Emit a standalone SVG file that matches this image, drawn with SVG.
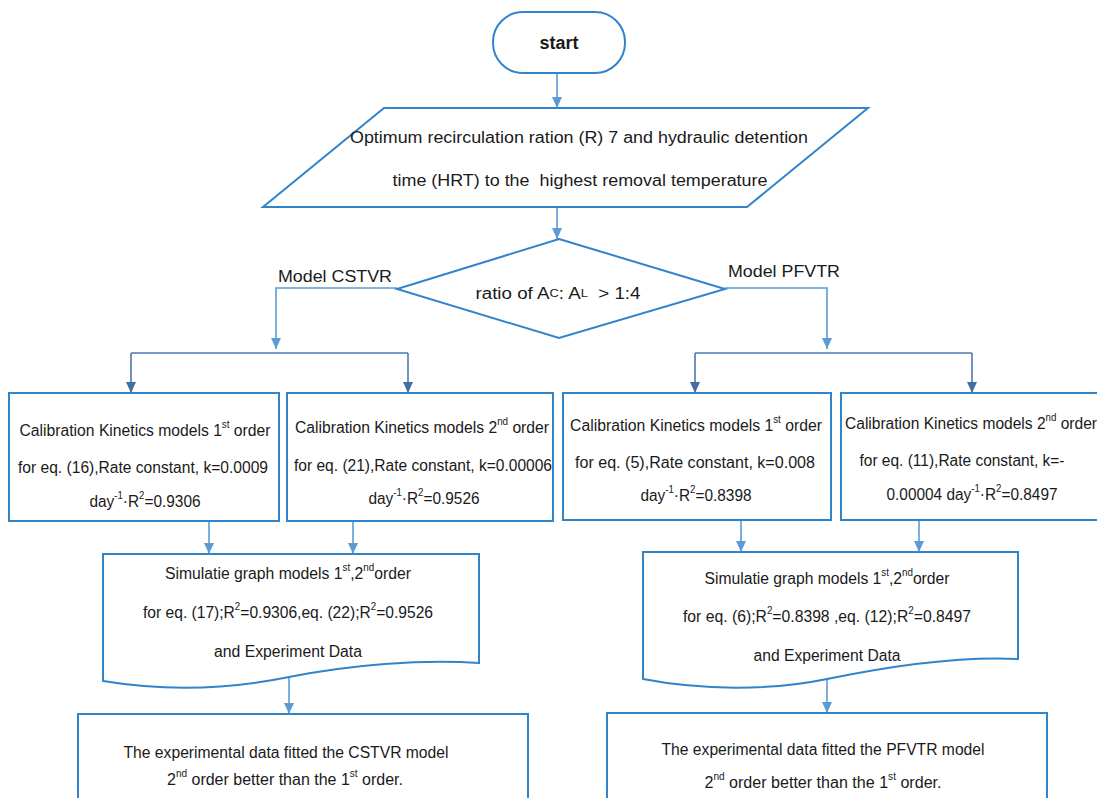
<svg xmlns="http://www.w3.org/2000/svg" width="1097" height="798" viewBox="0 0 1097 798">
<style>
.shape{fill:#fff;stroke:#2F84CC;stroke-width:2}
.conn{fill:none;stroke:#5B9BD5;stroke-width:1.6}
.split{fill:none;stroke:#4A7AAE;stroke-width:1.6}
text{font-family:"Liberation Sans",Arial,sans-serif;font-size:16px;fill:#1a1a1a;dominant-baseline:central}
.c{text-anchor:middle}
.sup{font-size:10px;baseline-shift:6px}
</style>
<rect width="1097" height="798" fill="#fff"/>

<g id="connectors">
<path class="conn" d="M557,73 V108"/>
<path class="conn" d="M557,207 V239"/>
<path class="conn" d="M397,288 H276 V349"/>
<path class="conn" d="M725,288 H827 V349"/>
<path class="split" d="M131,353 H408"/>
<path class="split" d="M131,353 V393"/>
<path class="split" d="M408,353 V393"/>
<path class="split" d="M695,353 H972"/>
<path class="split" d="M695,353 V393"/>
<path class="split" d="M972,353 V393"/>
<path class="conn" d="M209,521 V554"/>
<path class="conn" d="M353,521 V554"/>
<path class="conn" d="M741,520 V552"/>
<path class="conn" d="M919,520 V552"/>
<path class="conn" d="M289,677 V714"/>
<path class="conn" d="M827,679 V713"/>
<g fill="#5B9BD5">
<path d="M552,97 L562,97 L557,108 Z"/>
<path d="M552,228 L562,228 L557,239 Z"/>
<path d="M271,338 L281,338 L276,349 Z"/>
<path d="M822,338 L832,338 L827,349 Z"/>
<path d="M204,543 L214,543 L209,554 Z"/>
<path d="M348,543 L358,543 L353,554 Z"/>
<path d="M736,541 L746,541 L741,552 Z"/>
<path d="M914,541 L924,541 L919,552 Z"/>
<path d="M284,703 L294,703 L289,714 Z"/>
<path d="M822,702 L832,702 L827,713 Z"/>
</g>
<g fill="#41709F">
<path d="M126,382 L136,382 L131,393 Z"/>
<path d="M403,382 L413,382 L408,393 Z"/>
<path d="M690,382 L700,382 L695,393 Z"/>
<path d="M967,382 L977,382 L972,393 Z"/>
</g>
<text x="278" y="276" textLength="114" lengthAdjust="spacingAndGlyphs">Model CSTVR</text>
<text x="728" y="271" textLength="112" lengthAdjust="spacingAndGlyphs">Model PFVTR</text>
</g>

<g id="start">
<rect class="shape" x="493" y="12" width="132" height="61" rx="30" ry="30"/>
<text class="c" x="559" y="43" style="font-weight:bold;font-size:18px">start</text>
</g>

<g id="input">
<path class="shape" d="M384,108 H868 L747,207 H263 Z"/>
<text class="c" x="579" y="137" textLength="458" lengthAdjust="spacingAndGlyphs">Optimum recirculation ration (R) 7 and hydraulic detention</text>
<text class="c" x="580" y="180" textLength="375" lengthAdjust="spacingAndGlyphs" xml:space="preserve">time (HRT) to the  highest removal temperature</text>
</g>

<g id="decision">
<path class="shape" d="M559,239 L725,289 L559,338 L397,289 Z"/>
<text class="c" x="558" y="293" textLength="165" lengthAdjust="spacingAndGlyphs" xml:space="preserve">ratio of A<tspan style="font-size:11px">C</tspan>: A<tspan style="font-size:11px">L</tspan>  &gt; 1:4</text>
</g>

<g id="cstvr-1st">
<rect class="shape" x="9" y="393" width="270" height="128"/>
<text class="c" x="145" y="430" textLength="251" lengthAdjust="spacingAndGlyphs">Calibration Kinetics models 1<tspan class="sup">st</tspan> order</text>
<text class="c" x="143" y="467" textLength="250" lengthAdjust="spacingAndGlyphs">for eq. (16),Rate constant, k=0.0009</text>
<text class="c" x="145" y="501" textLength="111" lengthAdjust="spacingAndGlyphs">day<tspan class="sup">-1</tspan>·R<tspan class="sup">2</tspan>=0.9306</text>
</g>

<g id="cstvr-2nd">
<rect class="shape" x="287" y="393" width="266" height="128"/>
<text class="c" x="422" y="427" textLength="254" lengthAdjust="spacingAndGlyphs">Calibration Kinetics models 2<tspan class="sup">nd</tspan> order</text>
<text class="c" x="423" y="465" textLength="258" lengthAdjust="spacingAndGlyphs">for eq. (21),Rate constant, k=0.00006</text>
<text class="c" x="424" y="498" textLength="111" lengthAdjust="spacingAndGlyphs">day<tspan class="sup">-1</tspan>·R<tspan class="sup">2</tspan>=0.9526</text>
</g>

<g id="pfvtr-1st">
<rect class="shape" x="563" y="393" width="268" height="127"/>
<text class="c" x="696" y="425" textLength="252" lengthAdjust="spacingAndGlyphs">Calibration Kinetics models 1<tspan class="sup">st</tspan> order</text>
<text class="c" x="695" y="462" textLength="240" lengthAdjust="spacingAndGlyphs">for eq. (5),Rate constant, k=0.008</text>
<text class="c" x="696" y="495" textLength="111" lengthAdjust="spacingAndGlyphs">day<tspan class="sup">-1</tspan>·R<tspan class="sup">2</tspan>=0.8398</text>
</g>

<g id="pfvtr-2nd">
<rect class="shape" x="841" y="393" width="262" height="127"/>
<text class="c" x="971" y="423" textLength="252" lengthAdjust="spacingAndGlyphs">Calibration Kinetics models 2<tspan class="sup">nd</tspan> order</text>
<text class="c" x="962" y="460" textLength="205" lengthAdjust="spacingAndGlyphs">for eq. (11),Rate constant, k=-</text>
<text class="c" x="972" y="494" textLength="171" lengthAdjust="spacingAndGlyphs">0.00004 day<tspan class="sup">-1</tspan>·R<tspan class="sup">2</tspan>=0.8497</text>
</g>

<g id="simulate-cstvr">
<path class="shape" d="M103,554 H479 V663 C420,659 350,665 289,677 C230,689 170,692 103,681 Z"/>
<text class="c" x="288" y="573" textLength="246" lengthAdjust="spacingAndGlyphs">Simulatie graph models 1<tspan class="sup">st</tspan>,2<tspan class="sup">nd</tspan>order</text>
<text class="c" x="288" y="612" textLength="290" lengthAdjust="spacingAndGlyphs">for eq. (17);R<tspan class="sup">2</tspan>=0.9306,eq. (22);R<tspan class="sup">2</tspan>=0.9526</text>
<text class="c" x="288" y="651" textLength="148" lengthAdjust="spacingAndGlyphs">and Experiment Data</text>
</g>

<g id="simulate-pfvtr">
<path class="shape" d="M643,552 H1018 V659 C960,656 890,666 827,679 C770,691 700,690 643,679 Z"/>
<text class="c" x="827" y="578" textLength="245" lengthAdjust="spacingAndGlyphs">Simulatie graph models 1<tspan class="sup">st</tspan>,2<tspan class="sup">nd</tspan>order</text>
<text class="c" x="827" y="616" textLength="288" lengthAdjust="spacingAndGlyphs">for eq. (6);R<tspan class="sup">2</tspan>=0.8398 ,eq. (12);R<tspan class="sup">2</tspan>=0.8497</text>
<text class="c" x="827" y="655" textLength="147" lengthAdjust="spacingAndGlyphs">and Experiment Data</text>
</g>

<g id="result-cstvr">
<rect class="shape" x="78" y="714" width="450" height="100"/>
<text class="c" x="286" y="752" textLength="325" lengthAdjust="spacingAndGlyphs">The experimental data fitted the CSTVR model</text>
<text class="c" x="285" y="779" textLength="236" lengthAdjust="spacingAndGlyphs">2<tspan class="sup">nd</tspan> order better than the 1<tspan class="sup">st</tspan> order.</text>
</g>

<g id="result-pfvtr">
<rect class="shape" x="607" y="713" width="440" height="100"/>
<text class="c" x="823" y="749" textLength="323" lengthAdjust="spacingAndGlyphs">The experimental data fitted the PFVTR model</text>
<text class="c" x="823" y="782" textLength="237" lengthAdjust="spacingAndGlyphs">2<tspan class="sup">nd</tspan> order better than the 1<tspan class="sup">st</tspan> order.</text>
</g>
</svg>
